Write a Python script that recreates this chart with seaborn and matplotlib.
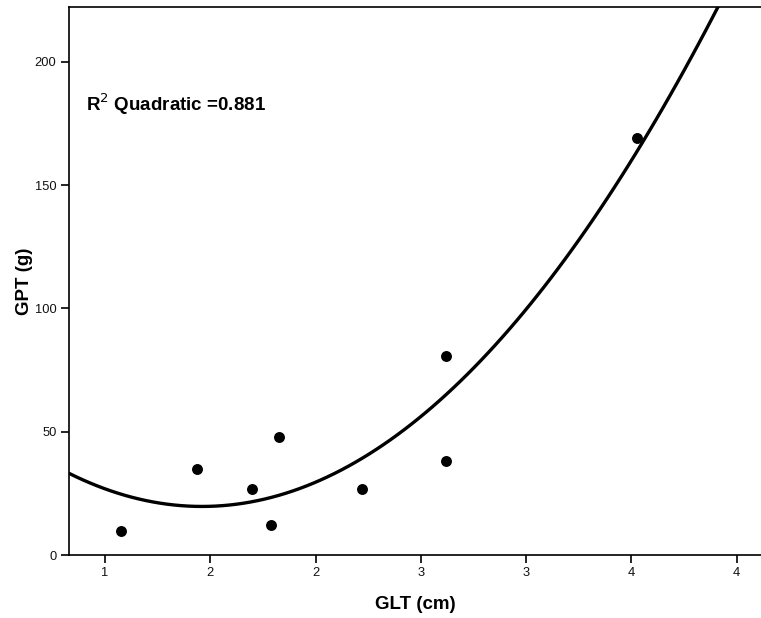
import numpy as np
import pandas as pd
import matplotlib
matplotlib.use("Agg")
import matplotlib.pyplot as plt
import seaborn as sns

# data
glt_cm = [1.076, 1.437, 1.698, 1.788, 1.828, 2.218, 2.618, 2.618, 3.528]
gpt_g = [9.9, 35.0, 26.9, 12.0, 48.0, 26.8, 80.6, 38.1, 169.0]
x_ticks = [1.0, 1.5, 2.0, 2.5, 3.0, 3.5, 4.0]
x_tick_labels = ["1", "2", "2", "3", "3", "4", "4"]
y_ticks = [0, 50, 100, 150, 200]
y_tick_labels = ["0", "50", "100", "150", "200"]
annotation = "R$^2$ Quadratic =0.881"

df = pd.DataFrame({"GLT": glt_cm, "GPT": gpt_g})

sns.set_style("white")
plt.rcParams["font.family"] = ["Liberation Sans", "DejaVu Sans"]
plt.rcParams["text.color"] = "black"
plt.rcParams["axes.labelcolor"] = "black"

fig = plt.figure(figsize=(7.61, 6.18), dpi=100)
ax = fig.add_axes([69 / 761, 1 - 555 / 618, 1 - 69 / 761, (555 - 7) / 618])

ax.set_xlim(0.829, 4.115)
ax.set_ylim(0, 222.2)

sns.regplot(data=df, x="GLT", y="GPT", order=2, ci=None, truncate=False,
            ax=ax, color="black",
            scatter_kws={"s": 62, "alpha": 1.0, "linewidths": 0, "zorder": 3},
            line_kws={"lw": 2.4, "color": "black"})

ax.set_xlim(0.829, 4.115)
ax.set_ylim(0, 222.2)

ax.set_xticks(x_ticks)
ax.set_xticklabels(x_tick_labels)
ax.set_yticks(y_ticks)
ax.set_yticklabels(y_tick_labels)
ax.tick_params(axis="both", direction="out", length=6, width=1.2, color="black",
               labelsize=9.3, labelcolor="#111111", pad=3, bottom=True, left=True)

for side in ["left", "bottom", "top"]:
    ax.spines[side].set_visible(True)
    ax.spines[side].set_color("black")
    ax.spines[side].set_linewidth(1.2)
ax.spines["right"].set_visible(False)

ax.set_xlabel("GLT (cm)", fontsize=13.5, fontweight="bold", labelpad=12, color="black")
ax.set_ylabel("GPT (g)", fontsize=13.5, fontweight="bold", labelpad=1, color="black")

ax.annotate(annotation, xy=(0.025, 0.822), xycoords="axes fraction",
            fontsize=13.5, fontweight="bold", ha="left", va="center", color="black")

fig.savefig("out.png", dpi=100)
